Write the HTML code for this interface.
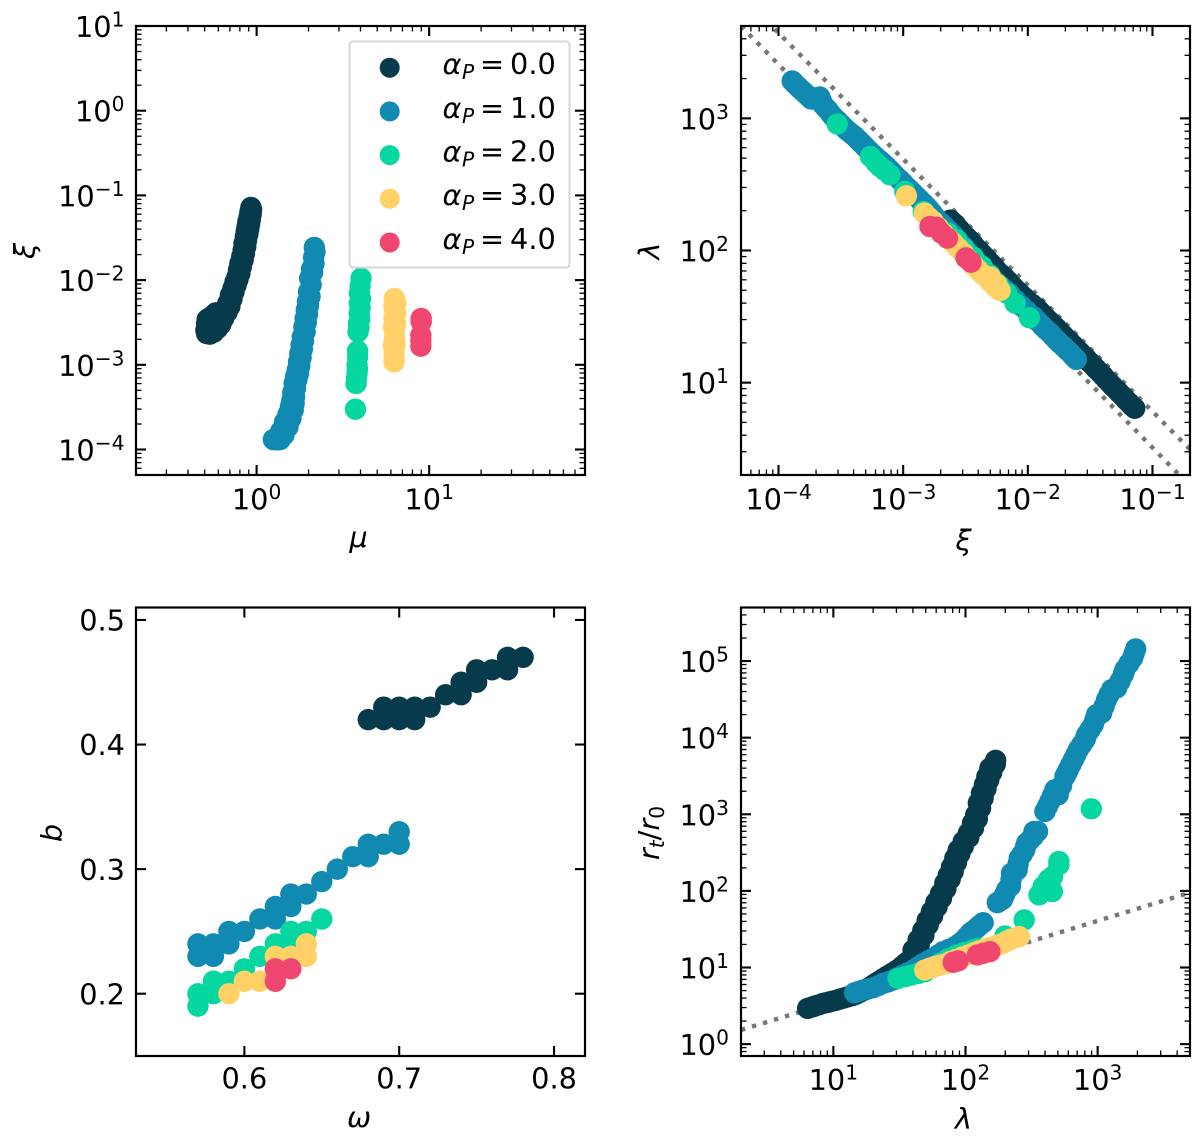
<!DOCTYPE html>
<html lang="en">
<head>
<meta charset="utf-8">
<title>Parameter scatter panels</title>
<style>
html,body{margin:0;padding:0;background:#fff;}
svg{display:block;}
text{font-family:"DejaVu Sans","Liberation Sans",sans-serif;fill:#000;}
</style>
</head>
<body>
<svg id="figure" xmlns="http://www.w3.org/2000/svg" width="1200" height="1141" viewBox="0 0 1200 1141"></svg>
<script>
// ---------- Series labels ----------
const seriesColors = ['#073B4C', '#118AB2', '#06D6A0', '#FFD166', '#EF476F'];
const legendValues = ['0.0', '1.0', '2.0', '3.0', '4.0'];

// ---------- Panel 1: mu vs xi ----------
const mu0 = [.927,.935,.915,.93,.905,.92,.89,.91,.88,.90,.87,.89,.86,.875,.845,.865,.835,.85,.82,.835,.80,.815,.785,.80,.77,.78,.75,.76,.73,.74,.705,.72,.68,.70,.655,.675,.63,.645,.60,.62,.58,.595,.55,.565,.536,.513,.508,.513,.517,.53,.548,.565,.581];
const xi0 = [.0721,.068,.0641,.060,.056,.052,.0489,.0455,.0427,.040,.0372,.035,.0325,.0295,.0271,.0247,.0226,.0206,.0189,.0172,.0157,.0143,.0131,.012,.0109,.0102,.00955,.0087,.00798,.0073,.00665,.006,.0053,.00488,.00451,.0042,.00387,.00355,.00322,.003,.00286,.0027,.00257,.00243,.0023,.00234,.00257,.00308,.00343,.00356,.00369,.0039,.00411];
const mu1 = [2.16,2.18,2.14,2.15,2.08,2.11,2.03,2.07,2.0,2.04,1.97,2.0,1.94,1.97,1.91,1.94,1.88,1.91,1.84,1.87,1.81,1.84,1.78,1.81,1.75,1.78,1.72,1.75,1.68,1.71,1.65,1.68,1.62,1.66,1.60,1.65,1.57,1.63,1.52,1.58,1.45,1.52,1.38,1.44,1.33,1.37,1.25,1.31];
const xi1 = [.0243,.0216,.0185,.0157,.0135,.0123,.0105,.0088,.00728,.0064,.00555,.005,.00443,.00395,.00352,.00315,.00281,.00245,.00214,.00191,.00171,.00152,.00136,.00121,.00108,9.7e-4,8.65e-4,7.9e-4,7.21e-4,6.6e-4,6.02e-4,5.3e-4,4.7e-4,4.19e-4,3.8e-4,3.49e-4,3.2e-4,2.92e-4,2.6e-4,2.32e-4,2.1e-4,1.85e-4,1.65e-4,1.48e-4,1.38e-4,1.31e-4,1.31e-4,1.3e-4];
const mu2 = [4.03,3.98,3.94,4.0,3.94,3.98,3.93,3.96,3.89,3.92,3.87,3.85,3.85,3.82,3.84,3.82,3.79,3.77,3.74];
const xi2 = [.0105,.0085,.00697,.006,.0053,.0047,.00404,.0035,.00308,.00275,.00245,.00146,.00125,9.9e-4,8.9e-4,7.9e-4,6.9e-4,6.02e-4,2.99e-4];
const mu3 = [6.29,6.41,6.25,6.40,6.25,6.38,6.22,6.29,6.3,6.35,6.2,6.26,6.26,6.26];
const xi3 = [.00607,.0053,.0048,.00404,.0036,.00308,.00275,.00256,.00205,.00175,.00171,.00149,.00125,.00108];
const mu4 = [8.99,8.99,8.95,8.95,8.95];
const xi4 = [.00352,.00322,.00224,.00195,.00166];

// ---------- Panel 2: xi vs lambda ----------
const xiB0 = [.0024,.00255,.0027,.00285,.0030,.0032,.0034,.0036,.0038,.00405,.0043,.00455,.0048,.0051,.0054,.0057,.0061,.0065,.0069,.0073,.0078,.0083,.0088,.0094,.0100,.0109,.0118,.0125,.0133,.0141,.015,.016,.017,.018,.0192,.0204,.0217,.0231,.0245,.026,.0277,.0295,.0313,.0333,.0354,.0376,.04,.0425,.0452,.048,.051,.054,.0577,.061,.0652,.068,.072];
const lamB0 = [170,161,151,143,135,127,120,113,106,100,94,89,84,79,75,70,66,62.5,59,55.5,52,49,46.5,44,41.5,39,36.7,34.6,32.6,30.7,29,27.3,25.8,24.3,22.9,21.6,20.4,19.2,18.1,17.1,16.1,15.2,14.3,13.5,12.7,12,11.3,10.6,10,9.4,8.9,8.4,7.9,7.45,7.0,6.7,6.4];
const xiB1 = [1.288e-4,1.35e-4,1.42e-4,1.49e-4,1.57e-4,1.63e-4,1.70e-4,1.76e-4,1.83e-4,1.98e-4,2.14e-4,2.2e-4,2.27e-4,2.38e-4,2.5e-4,2.61e-4,2.73e-4,2.86e-4,3.0e-4,3.14e-4,3.29e-4,3.46e-4,3.65e-4,3.86e-4,4.08e-4,4.24e-4,4.4e-4,4.58e-4,4.77e-4,4.98e-4,5.2e-4,5.46e-4,5.74e-4,6.1e-4,6.5e-4,6.9e-4,7.34e-4,7.8e-4,8.3e-4,8.8e-4,9.4e-4,1.0e-3,1.06e-3,1.13e-3,1.2e-3,1.28e-3,1.36e-3,1.45e-3,1.54e-3,1.62e-3,1.7e-3,1.77e-3,1.85e-3,2.0e-3,2.15e-3,2.33e-3,2.52e-3,2.77e-3,3.05e-3,3.34e-3,3.66e-3,3.95e-3,4.25e-3,4.6e-3,4.98e-3,5.45e-3,6e-3,6.6e-3,7.2e-3,8e-3,8.9e-3,9.9e-3,1.11e-2,1.2e-2,1.3e-2,1.4e-2,1.51e-2,1.6e-2,1.7e-2,1.81e-2,1.94e-2,2.06e-2,2.2e-2,2.32e-2,2.45e-2];
const lamB1 = [1919,1835,1750,1675,1603,1550,1500,1450,1400,1425,1452,1360,1270,1208,1150,1090,1035,990,950,908,869,830,795,762,731,705,680,655,632,605,580,555,531,505,480,456,433,408,385,363,343,323,305,288,272,256,242,228,215,204,193,183,174,162,152,141,131,118,107,96.5,87.5,81,75,69,63.5,58.5,54,50,46.7,42,38,34.5,31.6,29.2,27,25.2,23.7,22.3,21,19.8,18.7,17.7,16.7,15.8,15];
const xiB2 = [2.96e-4,5.46e-4,6.03e-4,6.49e-4,7.13e-4,7.81e-4,1.03e-3,1.45e-3,1.97e-3,2.3e-3,2.69e-3,3.1e-3,3.66e-3,4.3e-3,4.98e-3,5.8e-3,6.78e-3,7.91e-3,1.03e-2];
const lamB2 = [906,515,464,433,404,374,280,197,147,135,120.5,103,89,76,65.4,55,47.5,39.9,31];
const xiB3 = [1.06e-3,1.48e-3,1.6e-3,1.74e-3,1.9e-3,2.1e-3,2.3e-3,2.52e-3,2.77e-3,3.04e-3,3.3e-3,3.66e-3,4e-3,4.4e-3,4.98e-3,5.0e-3,5.46e-3,5.6e-3,5.99e-3];
const lamB3 = [259,192,178,166,150,135,124,114,104,95.4,86,77.8,71,65.4,58.2,63,53.3,56,49.8];
const xiB4 = [1.64e-3,1.85e-3,2.03e-3,2.27e-3,3.19e-3,3.5e-3];
const lamB4 = [152,150,135,124,88,81.6];
const guideUpperXi = [9.3e-5, 0.2];
const guideUpperLam = [4750, 3.12];
const guideLowerXi = [5e-5, 0.2];
const guideLowerLam = [5000, 1.65];

// ---------- Panel 3: omega vs b ----------
const om0 = [.68,.69,.69,.70,.70,.71,.71,.72,.73,.74,.74,.75,.75,.76,.77,.77,.78];
const b0 = [.42,.43,.42,.43,.42,.43,.42,.43,.44,.45,.44,.46,.45,.46,.47,.46,.47];
const om1 = [.57,.57,.58,.58,.59,.59,.60,.61,.62,.62,.63,.63,.64,.65,.66,.67,.68,.68,.69,.70,.70];
const b1 = [.24,.23,.24,.23,.25,.24,.25,.26,.27,.26,.28,.27,.28,.29,.30,.31,.32,.31,.32,.33,.32];
const om2 = [.57,.57,.58,.58,.59,.60,.61,.62,.63,.63,.64,.65];
const b2 = [.20,.19,.21,.20,.21,.22,.23,.24,.25,.24,.25,.26];
const om3 = [.59,.60,.61,.62,.63,.64,.64];
const b3 = [.20,.21,.21,.23,.23,.24,.23];
const om4 = [.62,.62,.63];
const b4 = [.22,.21,.22];

// ---------- Panel 4: lambda vs rt/r0 ----------
const lamD0 = [6.39,6.9,7.22,7.75,8.35,9,9.66,10.4,11.2,12,12.9,13.9,14.9,16,17.3,18.6,20,21.2,22.4,23.7,25.2,26.7,28.3,30,31.8,33.2,34.7,36.3,37.9,41.0,40.1,44.6,43.8,48.4,47.5,52.2,51.2,56.4,55.2,61,59.7,65.8,64.6,71,69.7,76.5,74.1,80.7,78.3,85.5,83,90.6,88,96.2,96,106,105,115,113,123,119.5,130,125,136,132,143,139,150,145,158,153,168,169];
const rtD0 = [2.93,3.05,3.14,3.25,3.4,3.5,3.61,3.72,3.87,4.0,4.15,4.3,4.5,4.78,5.08,5.45,5.91,6.3,6.66,7.1,7.59,8.05,8.56,9.1,9.75,10.4,11.1,11.8,12.5,14.4,16.9,19.5,22.9,26.3,30.5,36,41,47,53.7,62,71,80.2,92,106,126,142,160,179,205,235,267,305,340,380,440,500,567,660,767,870,985,1200,1400,1626,1880,2150,2431,2800,3100,3523,4000,4500,5055];
const lamD1 = [14.5,15.6,16.8,18.3,20,21.8,23.8,26,28.3,30.9,33.7,36.8,40.2,43.8,47.8,52,56.9,62,67.7,75,83,90,96,102,108,114,121,128,136,174,182,191,198,205,212,219,221,223,234,246,250,255,268,281,285,290,308,326,328,330,351,399,417,435,455,475,489,503,534,566,583,600,627,655,684,714,757,802,814,826,875,927,954,982,1026,1072,1120,1169,1221,1276,1333,1393,1476,1563,1586,1610,1722,1841,1890,1940];
const rtD1 = [4.69,4.88,5.08,5.26,5.45,5.8,6.21,6.5,6.87,7.4,7.98,8.6,9.27,10.2,11.3,12.2,13.2,14.6,16.1,17.3,18.7,20.5,22.4,25,28,30,32.5,35.5,38.5,70.3,74,77.8,90,103,110,116,140,170,179,188,225,267,300,344,380,420,465,513,555,597,597,1089,1266,1472,1750,2089,1933,1799,2370,3126,3450,3819,4440,5156,6000,6966,8100,9419,10150,10940,12700,14790,17200,20000,20500,21000,25700,31400,36500,42400,43500,44600,54500,66700,71900,77400,92300,110000,126000,144000];
const lamD2 = [30.9,35,39,44,49.2,56,63.9,74,85.5,98,114,125,199,278,360,387,423,456,454,509,509,895];
const rtD2 = [7.22,7.6,7.98,8.4,8.82,10,11.3,13,14.6,15.7,16.9,17.8,25.8,41.8,88.7,114,139,154,98,242,219,1180];
const lamD3 = [49.2,53.5,58.6,64,69.7,77,85.5,95,105,116,128,140,153,170,187,205,222,255];
const rtD3 = [9.27,9.8,10.3,10.7,11.1,12,12.8,13.7,14.6,15.6,16.6,17.5,18.3,19.3,20.3,22,23.5,25.3];
const lamD4 = [80.7,87.9,123,136,153];
const rtD4 = [11.7,12.2,14.6,15.3,16.1];
const guideRtLam = [2, 5000];
const guideRtVal = [1.53, 95];

// ---------- Tick labels ----------
const p1XExp = [0, 1];
const p1YExp = [-4, -3, -2, -1, 0, 1];
const p2XExp = [-4, -3, -2, -1];
const p2YExp = [1, 2, 3];
const p3XTicks = ['0.6', '0.7', '0.8'];
const p3YTicks = ['0.2', '0.3', '0.4', '0.5'];
const p4XExp = [1, 2, 3];
const p4YExp = [0, 1, 2, 3, 4, 5];

// ---------- Helpers ----------
const NS = 'http://www.w3.org/2000/svg';
const FONT = 28.8;
const SUBFONT = 20.2;
const fig = document.getElementById('figure');
function mk(parent, tag, attrs) {
  const el = document.createElementNS(NS, tag);
  for (const k in attrs) el.setAttribute(k, attrs[k]);
  parent.appendChild(el);
  return el;
}
function logScale(min, max, a, b) {
  const l0 = Math.log10(min), l1 = Math.log10(max);
  return v => a + (Math.log10(v) - l0) / (l1 - l0) * (b - a);
}
function linScale(min, max, a, b) {
  return v => a + (v - min) / (max - min) * (b - a);
}
function makePanel(name, box) {
  const g = mk(fig, 'g', {});
  
  
  const cp = mk(g, 'clipPath', {id: 'clip-' + name});
  mk(cp, 'rect', {x: box.L, y: box.T, width: box.R - box.L, height: box.B - box.T});
  return g;
}
function drawGuide(g, box, name, panel, xs, ys, sx, sy) {
  const line = mk(g, 'line', {
    x1: sx(xs[0]), y1: sy(ys[0]), x2: sx(xs[1]), y2: sy(ys[1]),
    stroke: '#777', 'stroke-width': 4.4, 'stroke-dasharray': '4.4 7.1',
    'clip-path': 'url(#clip-' + panel + ')'
  });
  
  
}
function drawSeries(g, idx, xs, ys, sx, sy) {
  const sg = mk(g, 'g', {fill: seriesColors[idx]});
  
  
  for (let i = 0; i < xs.length; i++) {
    const c = mk(sg, 'circle', {cx: sx(xs[i]), cy: sy(ys[i]), r: 10.7});
    
    
  }
}
function drawTickMark(g, x1, y1, x2, y2, w) {
  const t = mk(g, 'line', {x1, y1, x2, y2, stroke: '#000', 'stroke-width': w});
  
  
}
function xTick(g, box, px, len, w) {
  drawTickMark(g, px, box.B, px, box.B - len, w);
  drawTickMark(g, px, box.T, px, box.T + len, w);
}
function yTick(g, box, py, len, w) {
  drawTickMark(g, box.L, py, box.L + len, py, w);
  drawTickMark(g, box.R, py, box.R - len, py, w);
}
function logTicks(g, box, min, max, scale, addTick) {
  const lo = Math.floor(Math.log10(min)), hi = Math.ceil(Math.log10(max));
  for (let e = lo; e <= hi; e++) {
    const base = Math.pow(10, e);
    if (base >= min * 0.999 && base <= max * 1.001) addTick(g, box, scale(base), 10, 2.1);
    for (let s = 2; s <= 9; s++) {
      const v = s * base;
      if (v > min * 1.001 && v < max * 0.999) addTick(g, box, scale(v), 5.5, 1.3);
    }
  }
}
function expLabel(g, x, y, anchor, exp) {
  const t = mk(g, 'text', {x, y, 'text-anchor': anchor, 'font-size': FONT});
  
  
  t.appendChild(document.createTextNode('10'));
  const s = mk(t, 'tspan', {dy: -10.5, 'font-size': SUBFONT});
  s.textContent = String(exp).replace('-', '\u2212');
}
function plainLabel(g, x, y, anchor, str) {
  const t = mk(g, 'text', {x, y, 'text-anchor': anchor, 'font-size': FONT});
  
  
  t.textContent = str;
}
function xTitle(g, name, x, y, str) {
  const t = mk(g, 'text', {x, y, 'text-anchor': 'middle', 'font-size': FONT, 'font-style': 'italic'});
  
  
  t.textContent = str;
}
function yTitle(g, name, x, y, str) {
  const t = mk(g, 'text', {x, y, 'text-anchor': 'middle', 'font-size': FONT, 'font-style': 'italic', transform: 'rotate(-90 ' + x + ' ' + y + ')'});
  
  
  t.textContent = str;
  return t;
}
function spine(g, box) {
  const r = mk(g, 'rect', {x: box.L, y: box.T, width: box.R - box.L, height: box.B - box.T, fill: 'none', stroke: '#000', 'stroke-width': 2.2});
  
  
}

// ---------- Panel 1 ----------
(function () {
  const box = {L: 136, R: 585, T: 26, B: 475};
  const g = makePanel('panel-mu-xi', box);
  const sx = logScale(0.2, 80, box.L, box.R);
  const sy = logScale(5e-5, 10, box.B, box.T);
  drawSeries(g, 0, mu0, xi0, sx, sy);
  drawSeries(g, 1, mu1, xi1, sx, sy);
  drawSeries(g, 2, mu2, xi2, sx, sy);
  drawSeries(g, 3, mu3, xi3, sx, sy);
  drawSeries(g, 4, mu4, xi4, sx, sy);
  logTicks(g, box, 0.2, 80, sx, xTick);
  logTicks(g, box, 5e-5, 10, sy, yTick);
  spine(g, box);
  p1XExp.forEach(e => expLabel(g, sx(Math.pow(10, e)), 509.3, 'middle', e));
  p1YExp.forEach(e => expLabel(g, 124.5, sy(Math.pow(10, e)) + 11, 'end', e));
  xTitle(g, 'x-axis-title-mu', 358.5, 547, '\u03bc');
  yTitle(g, 'y-axis-title-xi', 34.5, 251, '\u03be');

  const leg = mk(g, 'g', {});
  
  
  const frame = mk(leg, 'rect', {x: 349.5, y: 41.5, width: 220, height: 226, rx: 3.5, ry: 3.5, fill: '#fff', 'fill-opacity': 0.8, stroke: '#d6d6d6', 'stroke-width': 2});
  
  
  legendValues.forEach((val, i) => {
    const cy = 67.7 + i * 43.7;
    const entry = mk(leg, 'g', {});
    
    
    const dot = mk(entry, 'circle', {cx: 389.7, cy, r: 10, fill: seriesColors[i]});
    
    
    const t = mk(entry, 'text', {x: 442.5, y: cy + 6.4, 'font-size': FONT});
    
    
    const a = mk(t, 'tspan', {'font-style': 'italic'});
    a.textContent = '\u03b1';
    const p = mk(t, 'tspan', {x: 462, dy: 5, 'font-size': SUBFONT, 'font-style': 'italic'});
    p.textContent = 'P';
    const eq = mk(t, 'tspan', {x: 480, dy: -5});
    eq.textContent = '=';
    const v = mk(t, 'tspan', {x: 510});
    v.textContent = val;
  });
})();

// ---------- Panel 2 ----------
(function () {
  const box = {L: 741, R: 1190, T: 26, B: 475};
  const g = makePanel('panel-xi-lambda', box);
  const sx = logScale(5e-5, 0.2, box.L, box.R);
  const sy = logScale(2, 5000, box.B, box.T);
  drawGuide(g, box, 'guide-line-upper', 'panel-xi-lambda', guideUpperXi, guideUpperLam, sx, sy);
  drawGuide(g, box, 'guide-line-lower', 'panel-xi-lambda', guideLowerXi, guideLowerLam, sx, sy);
  drawSeries(g, 0, xiB0, lamB0, sx, sy);
  drawSeries(g, 1, xiB1, lamB1, sx, sy);
  drawSeries(g, 2, xiB2, lamB2, sx, sy);
  drawSeries(g, 3, xiB3, lamB3, sx, sy);
  drawSeries(g, 4, xiB4, lamB4, sx, sy);
  logTicks(g, box, 5e-5, 0.2, sx, xTick);
  logTicks(g, box, 2, 5000, sy, yTick);
  spine(g, box);
  p2XExp.forEach(e => expLabel(g, sx(Math.pow(10, e)), 509.3, 'middle', e));
  p2YExp.forEach(e => expLabel(g, 729, sy(Math.pow(10, e)) + 11, 'end', e));
  xTitle(g, 'x-axis-title-xi', 963.5, 550, '\u03be');
  yTitle(g, 'y-axis-title-lambda', 659, 251, '\u03bb');
})();

// ---------- Panel 3 ----------
(function () {
  const box = {L: 136, R: 585, T: 607.5, B: 1056};
  const g = makePanel('panel-omega-b', box);
  const sx = linScale(0.53, 0.82, box.L, box.R);
  const sy = linScale(0.15, 0.51, box.B, box.T);
  drawSeries(g, 0, om0, b0, sx, sy);
  drawSeries(g, 1, om1, b1, sx, sy);
  drawSeries(g, 2, om2, b2, sx, sy);
  drawSeries(g, 3, om3, b3, sx, sy);
  drawSeries(g, 4, om4, b4, sx, sy);
  p3XTicks.forEach(s => {
    xTick(g, box, sx(parseFloat(s)), 10, 2.1);
    plainLabel(g, sx(parseFloat(s)), 1088.3, 'middle', s);
  });
  p3YTicks.forEach(s => {
    yTick(g, box, sy(parseFloat(s)), 10, 2.1);
    plainLabel(g, 125, sy(parseFloat(s)) + 10.7, 'end', s);
  });
  spine(g, box);
  xTitle(g, 'x-axis-title-omega', 359, 1127, '\u03c9');
  yTitle(g, 'y-axis-title-b', 61.5, 833, 'b');
})();

// ---------- Panel 4 ----------
(function () {
  const box = {L: 741, R: 1190, T: 607.5, B: 1056};
  const g = makePanel('panel-lambda-rt', box);
  const sx = logScale(2, 5000, box.L, box.R);
  const sy = logScale(0.7, 5e5, box.B, box.T);
  drawGuide(g, box, 'guide-line', 'panel-lambda-rt', guideRtLam, guideRtVal, sx, sy);
  drawSeries(g, 0, lamD0, rtD0, sx, sy);
  drawSeries(g, 1, lamD1, rtD1, sx, sy);
  drawSeries(g, 2, lamD2, rtD2, sx, sy);
  drawSeries(g, 3, lamD3, rtD3, sx, sy);
  drawSeries(g, 4, lamD4, rtD4, sx, sy);
  logTicks(g, box, 2, 5000, sx, xTick);
  logTicks(g, box, 0.7, 5e5, sy, yTick);
  spine(g, box);
  p4XExp.forEach(e => expLabel(g, sx(Math.pow(10, e)), 1090, 'middle', e));
  p4YExp.forEach(e => expLabel(g, 729, sy(Math.pow(10, e)) + 11, 'end', e));
  xTitle(g, 'x-axis-title-lambda', 963.5, 1128.5, '\u03bb');
  const t = yTitle(g, 'y-axis-title-rt-r0', 659, 833, '');
  const r1 = mk(t, 'tspan', {});
  r1.textContent = 'r';
  const st = mk(t, 'tspan', {dy: 5, 'font-size': SUBFONT});
  st.textContent = 't';
  const sl = mk(t, 'tspan', {dy: -5, 'font-style': 'normal'});
  sl.textContent = '/';
  const r2 = mk(t, 'tspan', {});
  r2.textContent = 'r';
  const s0 = mk(t, 'tspan', {dy: 5, 'font-size': SUBFONT, 'font-style': 'normal'});
  s0.textContent = '0';
})();
</script>
</body>
</html>
